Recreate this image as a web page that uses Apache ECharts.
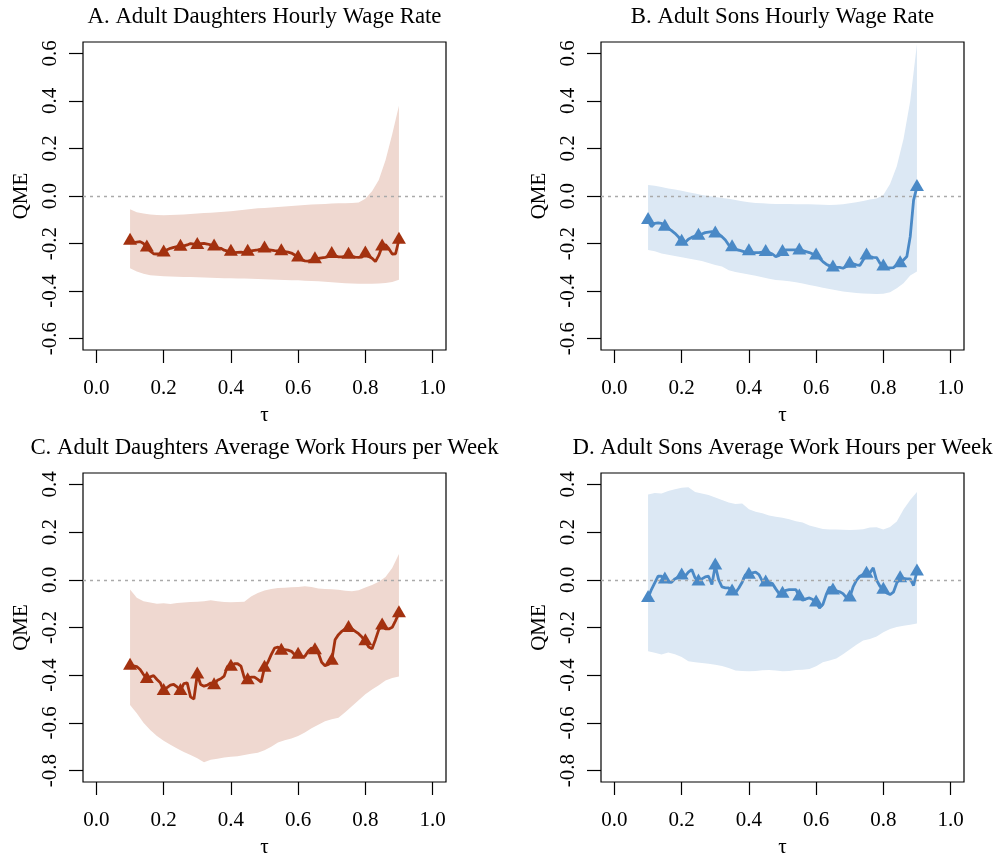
<!DOCTYPE html>
<html>
<head>
<meta charset="utf-8">
<script src="https://cdn.jsdelivr.net/npm/echarts@6/dist/echarts.min.js"></script>
<style>
html, body { margin: 0; padding: 0; background: #fff; }
#main { width: 997px; height: 856px; }
</style>
</head>
<body>
<div id="main"></div>
<script>
// quantile grid: line every 0.01, band every 0.02, markers every 0.05
var tauLine = [];
for (var i = 0; i <= 80; i++) tauLine.push((10 + i) / 100);
var tauBand = [];
for (var j = 0; j <= 40; j++) tauBand.push((10 + 2 * j) / 100);

var xTicks = [0, 0.2, 0.4, 0.6, 0.8, 1.0];
var yTicksWage = [-0.6, -0.4, -0.2, 0, 0.2, 0.4, 0.6];
var yTicksHours = [-0.8, -0.6, -0.4, -0.2, 0, 0.2, 0.4];

var titles = [
  'A. Adult Daughters Hourly Wage Rate',
  'B. Adult Sons Hourly Wage Rate',
  'C. Adult Daughters Average Work Hours per Week',
  'D. Adult Sons Average Work Hours per Week'
];

// A. daughters, wage
var daughtersWageQme = [
  -0.188, -0.196, -0.194, -0.192, -0.200, -0.217, -0.232, -0.243, -0.244, -0.242,
  -0.238, -0.226, -0.220, -0.216, -0.213, -0.214, -0.210, -0.206, -0.200, -0.203,
  -0.206, -0.200, -0.199, -0.202, -0.206, -0.213, -0.218, -0.220, -0.228, -0.232,
  -0.235, -0.238, -0.237, -0.236, -0.238, -0.235, -0.231, -0.229, -0.227, -0.224,
  -0.221, -0.226, -0.228, -0.230, -0.231, -0.233, -0.234, -0.236, -0.240, -0.248,
  -0.259, -0.268, -0.273, -0.274, -0.270, -0.266, -0.262, -0.260, -0.258, -0.255,
  -0.244, -0.252, -0.256, -0.256, -0.254, -0.247, -0.254, -0.257, -0.258, -0.257,
  -0.242, -0.255, -0.262, -0.276, -0.250, -0.213, -0.205, -0.222, -0.244, -0.243,
  -0.184
];
var daughtersWageLo = [
  -0.304, -0.318, -0.327, -0.333, -0.336, -0.338, -0.339, -0.340, -0.341, -0.341,
  -0.342, -0.343, -0.344, -0.345, -0.346, -0.346, -0.347, -0.347, -0.348, -0.349,
  -0.350, -0.351, -0.352, -0.353, -0.354, -0.355, -0.357, -0.358, -0.359, -0.361,
  -0.363, -0.365, -0.367, -0.368, -0.369, -0.369, -0.369, -0.368, -0.366, -0.362,
  -0.352
];
var daughtersWageHi = [
  -0.056, -0.068, -0.074, -0.078, -0.080, -0.081, -0.080, -0.079, -0.078, -0.076,
  -0.074, -0.072, -0.070, -0.068, -0.066, -0.064, -0.061, -0.058, -0.055, -0.052,
  -0.050, -0.048, -0.046, -0.044, -0.042, -0.040, -0.038, -0.036, -0.035, -0.034,
  -0.032, -0.031, -0.030, -0.029, -0.027, -0.012, 0.020, 0.067, 0.150, 0.260,
  0.380
];

// B. sons, wage
var sonsWageQme = [
  -0.101, -0.129, -0.115, -0.113, -0.115, -0.129, -0.136, -0.146, -0.157, -0.171,
  -0.192, -0.196, -0.182, -0.174, -0.168, -0.167, -0.160, -0.154, -0.152, -0.150,
  -0.158, -0.160, -0.171, -0.185, -0.206, -0.216, -0.224, -0.228, -0.232, -0.236,
  -0.232, -0.238, -0.238, -0.238, -0.236, -0.236, -0.238, -0.244, -0.255, -0.250,
  -0.236, -0.227, -0.227, -0.227, -0.227, -0.229, -0.230, -0.234, -0.238, -0.244,
  -0.250, -0.262, -0.276, -0.287, -0.294, -0.301, -0.300, -0.300, -0.304, -0.297,
  -0.285, -0.285, -0.290, -0.292, -0.269, -0.250, -0.255, -0.258, -0.259, -0.283,
  -0.297, -0.301, -0.302, -0.301, -0.290, -0.283, -0.269, -0.255, -0.171, -0.017,
  0.038
];
var sonsWageLo = [
  -0.227, -0.233, -0.242, -0.247, -0.252, -0.258, -0.263, -0.268, -0.274, -0.282,
  -0.290, -0.297, -0.312, -0.320, -0.325, -0.330, -0.336, -0.342, -0.348, -0.353,
  -0.356, -0.359, -0.363, -0.368, -0.374, -0.380, -0.386, -0.391, -0.397, -0.402,
  -0.405, -0.408, -0.410, -0.411, -0.412, -0.411, -0.405, -0.388, -0.367, -0.335,
  -0.318
];
var sonsWageHi = [
  0.046, 0.043, 0.038, 0.032, 0.027, 0.022, 0.016, 0.010, 0.004, 0.000,
  -0.004, -0.008, -0.012, -0.017, -0.022, -0.026, -0.029, -0.031, -0.033, -0.034,
  -0.034, -0.034, -0.035, -0.035, -0.035, -0.036, -0.037, -0.038, -0.037, -0.035,
  -0.031, -0.026, -0.021, -0.015, -0.010, 0.004, 0.050, 0.125, 0.240, 0.400,
  0.640
];

// C. daughters, hours
var daughtersHoursQme = [
  -0.360, -0.361, -0.364, -0.376, -0.397, -0.416, -0.407, -0.402, -0.418, -0.432,
  -0.466, -0.452, -0.442, -0.439, -0.449, -0.466, -0.435, -0.432, -0.491, -0.500,
  -0.397, -0.439, -0.446, -0.442, -0.432, -0.442, -0.421, -0.415, -0.404, -0.362,
  -0.365, -0.352, -0.352, -0.362, -0.411, -0.421, -0.408, -0.408, -0.418, -0.429,
  -0.369, -0.346, -0.314, -0.286, -0.282, -0.297, -0.293, -0.295, -0.300, -0.314,
  -0.314, -0.323, -0.321, -0.300, -0.286, -0.295, -0.307, -0.346, -0.360, -0.355,
  -0.339, -0.251, -0.230, -0.216, -0.206, -0.202, -0.206, -0.216, -0.226, -0.240,
  -0.258, -0.282, -0.289, -0.251, -0.209, -0.192, -0.206, -0.206, -0.199, -0.171,
  -0.140
];
var daughtersHoursLo = [
  -0.525, -0.560, -0.600, -0.630, -0.655, -0.675, -0.692, -0.708, -0.722, -0.735,
  -0.748, -0.765, -0.755, -0.750, -0.745, -0.742, -0.740, -0.735, -0.730, -0.725,
  -0.715, -0.700, -0.682, -0.673, -0.666, -0.655, -0.640, -0.623, -0.608, -0.593,
  -0.585, -0.578, -0.555, -0.530, -0.505, -0.480, -0.460, -0.442, -0.422, -0.412,
  -0.406
];
var daughtersHoursHi = [
  -0.041, -0.075, -0.090, -0.095, -0.100, -0.098, -0.101, -0.097, -0.095, -0.093,
  -0.092, -0.090, -0.086, -0.090, -0.093, -0.094, -0.093, -0.092, -0.070, -0.055,
  -0.045, -0.038, -0.034, -0.033, -0.031, -0.030, -0.027, -0.030, -0.036, -0.039,
  -0.040, -0.042, -0.046, -0.048, -0.044, -0.032, -0.022, -0.008, 0.012, 0.050,
  0.108
];

// D. sons, hours
var sonsHoursQme = [
  -0.076, -0.041, -0.013, 0.015, 0.015, 0.001, -0.009, -0.010, 0.004, 0.012,
  0.018, 0.015, 0.032, 0.043, 0.008, -0.007, 0.004, 0.012, 0.015, -0.020,
  0.060, 0.001, -0.030, -0.034, -0.034, -0.049, -0.055, -0.034, -0.010, 0.022,
  0.021, 0.029, 0.032, 0.022, -0.006, -0.011, -0.010, -0.016, -0.038, -0.058,
  -0.058, -0.044, -0.041, -0.041, -0.041, -0.070, -0.086, -0.080, -0.076, -0.083,
  -0.095, -0.118, -0.104, -0.062, -0.030, -0.045, -0.046, -0.050, -0.058, -0.074,
  -0.074, -0.030, -0.002, 0.015, 0.022, 0.025, 0.029, 0.050, -0.002, -0.027,
  -0.042, -0.055, -0.062, -0.052, -0.013, 0.007, 0.006, 0.004, 0.004, -0.024,
  0.035
];
var sonsHoursLo = [
  -0.300, -0.306, -0.313, -0.305, -0.312, -0.324, -0.342, -0.346, -0.349, -0.352,
  -0.356, -0.361, -0.370, -0.380, -0.382, -0.384, -0.382, -0.379, -0.378, -0.380,
  -0.384, -0.382, -0.378, -0.377, -0.374, -0.362, -0.346, -0.338, -0.330, -0.312,
  -0.292, -0.272, -0.255, -0.248, -0.238, -0.220, -0.206, -0.198, -0.193, -0.188,
  -0.183
];
var sonsHoursHi = [
  0.358, 0.364, 0.362, 0.372, 0.380, 0.386, 0.388, 0.368, 0.362, 0.356,
  0.345, 0.335, 0.324, 0.318, 0.320, 0.296, 0.286, 0.279, 0.270, 0.265,
  0.260, 0.254, 0.246, 0.240, 0.228, 0.220, 0.213, 0.211, 0.211, 0.210,
  0.209, 0.210, 0.212, 0.219, 0.220, 0.211, 0.222, 0.245, 0.295, 0.335,
  0.368
];

var RED = '#A3310F', RED_BAND = '#EFD8D0';
var BLUE = '#4A89C6', BLUE_BAND = '#DCE8F4';
var FONT = '"Liberation Serif", "DejaVu Serif", serif';

var panels = [
  { grid: { left: 83, top: 42, width: 363, height: 308 }, yMin: -0.648, yMax: 0.648, yTicks: yTicksWage,
    qme: daughtersWageQme, lo: daughtersWageLo, hi: daughtersWageHi, color: RED, band: RED_BAND },
  { grid: { left: 601, top: 42, width: 363, height: 308 }, yMin: -0.648, yMax: 0.648, yTicks: yTicksWage,
    qme: sonsWageQme, lo: sonsWageLo, hi: sonsWageHi, color: BLUE, band: BLUE_BAND },
  { grid: { left: 83, top: 473, width: 363, height: 309 }, yMin: -0.848, yMax: 0.448, yTicks: yTicksHours,
    qme: daughtersHoursQme, lo: daughtersHoursLo, hi: daughtersHoursHi, color: RED, band: RED_BAND },
  { grid: { left: 601, top: 473, width: 363, height: 309 }, yMin: -0.848, yMax: 0.448, yTicks: yTicksHours,
    qme: sonsHoursQme, lo: sonsHoursLo, hi: sonsHoursHi, color: BLUE, band: BLUE_BAND }
];

var fmt = function (v) { return (Math.abs(v) < 1e-9 ? 0 : v).toFixed(1); };

var option = {
  animation: false,
  backgroundColor: '#fff',
  title: [], grid: [], xAxis: [], yAxis: [], series: []
};

panels.forEach(function (p, k) {
  option.title.push({
    text: titles[k],
    left: p.grid.left + p.grid.width / 2,
    top: p.grid.top - 36,
    textAlign: 'center',
    padding: 0,
    textStyle: { fontFamily: FONT, fontSize: 22.8, fontWeight: 'normal', color: '#000' }
  });
  option.grid.push({
    left: p.grid.left, top: p.grid.top, width: p.grid.width, height: p.grid.height,
    show: true, borderColor: '#000', borderWidth: 1.2, backgroundColor: 'transparent',
    outerBoundsMode: 'none'
  });
  option.xAxis.push({
    gridIndex: k, type: 'value', min: -0.04, max: 1.04, position: 'bottom',
    name: 'τ', nameLocation: 'middle', nameGap: 55,
    nameTextStyle: { fontFamily: FONT, fontSize: 21, color: '#000' },
    axisLine: { show: false, onZero: false }, splitLine: { show: false },
    axisTick: { show: true, length: 13, customValues: xTicks, lineStyle: { color: '#000', width: 1.2 } },
    axisLabel: { customValues: xTicks, formatter: fmt, margin: 28,
      fontFamily: FONT, fontSize: 21, color: '#000' }
  });
  option.yAxis.push({
    gridIndex: k, type: 'value', min: p.yMin, max: p.yMax, position: 'left',
    name: 'QME', nameLocation: 'middle', nameGap: 51, nameRotate: 90,
    nameTextStyle: { fontFamily: FONT, fontSize: 21, color: '#000' },
    axisLine: { show: false, onZero: false }, splitLine: { show: false },
    axisTick: { show: true, length: 14, customValues: p.yTicks, lineStyle: { color: '#000', width: 1.2 } },
    axisLabel: { customValues: p.yTicks, formatter: fmt, rotate: 90, margin: 22,
      fontFamily: FONT, fontSize: 21, color: '#000' }
  });

  // confidence band as one polygon
  var bandData = tauBand.map(function (t, i) { return [t, p.lo[i], p.hi[i]]; });
  option.series.push({
    type: 'custom', xAxisIndex: k, yAxisIndex: k, silent: true, z: 1,
    encode: { x: 0, y: [1, 2] },
    data: bandData,
    renderItem: function (params, api) {
      if (params.dataIndex !== 0) return null;
      var pts = [];
      for (var a = 0; a < bandData.length; a++) pts.push(api.coord([bandData[a][0], bandData[a][2]]));
      for (var b = bandData.length - 1; b >= 0; b--) pts.push(api.coord([bandData[b][0], bandData[b][1]]));
      return { type: 'polygon', shape: { points: pts }, style: { fill: p.band } };
    }
  });

  option.series.push({
    type: 'line', xAxisIndex: k, yAxisIndex: k, z: 3,
    data: tauLine.map(function (t, i) { return [t, p.qme[i]]; }),
    symbol: 'none', lineStyle: { color: p.color, width: 2.8 },
    markLine: {
      silent: true, symbol: 'none', label: { show: false },
      lineStyle: { color: '#aaaaaa', type: [3, 4], width: 1.3 },
      data: [{ yAxis: 0 }]
    }
  });

  option.series.push({
    type: 'scatter', xAxisIndex: k, yAxisIndex: k, z: 4,
    data: tauLine.map(function (t, i) { return [t, p.qme[i]]; }).filter(function (d, i) { return i % 5 === 0; }),
    symbol: 'triangle', symbolSize: [14, 12], symbolOffset: [0, -2],
    itemStyle: { color: p.color, opacity: 1 }
  });
});

var chart = echarts.init(document.getElementById('main'));
chart.setOption(option);
window.addEventListener('resize', function () { chart.resize(); });
</script>
</body>
</html>
